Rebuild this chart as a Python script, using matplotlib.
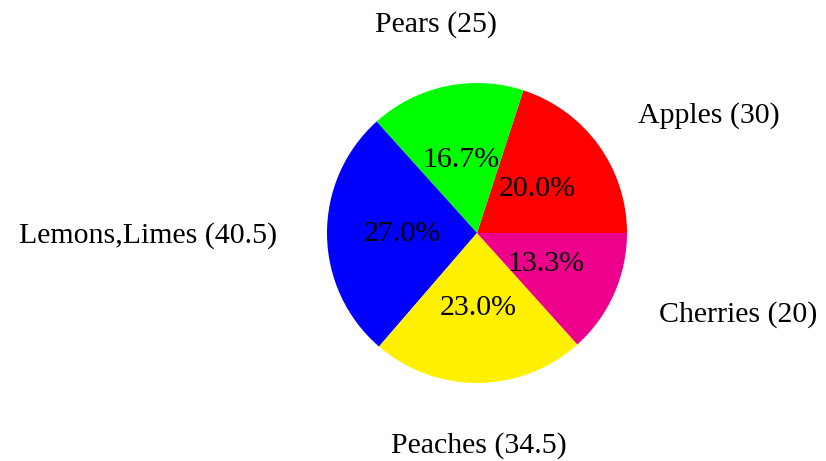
import matplotlib
matplotlib.use("Agg")
import matplotlib.pyplot as plt
import numpy as np

categories = ["Apples", "Pears", "Lemons,Limes", "Peaches", "Cherries"]
values = [30, 25, 40.5, 34.5, 20]
colors = ["#FF0000", "#00FF00", "#0000FF", "#FFF000", "#EC008C"]

labels = [f"{c} ({v:g})" for c, v in zip(categories, values)]

plt.rcParams['font.family'] = ['Liberation Serif', 'DejaVu Serif']

fig = plt.figure(figsize=(8.26, 4.61), dpi=100)
W, H = 826, 461
r_px = 150
cx, cy = 477, 461 - 233
half = r_px * 1.25
ax = fig.add_axes([(cx - half) / W, (cy - half) / H, 2 * half / W, 2 * half / H])

wedges, texts, autotexts = ax.pie(
    values, labels=labels, colors=colors, startangle=0, counterclock=True,
    autopct="%.1f%%", pctdistance=0.5, labeldistance=1.33,
    textprops=dict(fontsize=21.5, color="black"),
)
for w, t in zip(wedges, texts):
    ang = np.deg2rad((w.theta1 + w.theta2) / 2)
    c, s = np.cos(ang), np.sin(ang)
    if abs(c) < 0.3:
        t.set_ha("center")
    else:
        t.set_ha("left" if c > 0 else "right")
    if s > 0.8:
        t.set_va("bottom")
    elif s < -0.8:
        t.set_va("top")
    else:
        t.set_va("center")
ax.set_aspect("equal")

fig.savefig("out.png", dpi=100)
